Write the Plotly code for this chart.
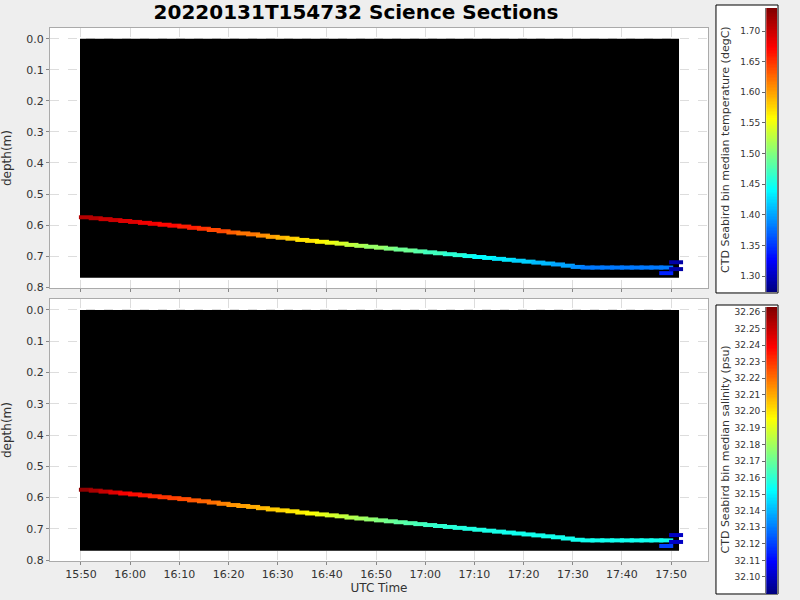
import plotly.graph_objects as go

times = ["15:50", "15:52", "15:54", "15:56", "15:58", "16:00", "16:02", "16:04", "16:06", "16:08",
         "16:10", "16:12", "16:14", "16:16", "16:18", "16:20", "16:22", "16:24", "16:26", "16:28",
         "16:30", "16:32", "16:34", "16:36", "16:38", "16:40", "16:42", "16:44", "16:46", "16:48",
         "16:50", "16:52", "16:54", "16:56", "16:58", "17:00", "17:02", "17:04", "17:06", "17:08",
         "17:10", "17:12", "17:14", "17:16", "17:18", "17:20", "17:22", "17:24", "17:26", "17:28",
         "17:30", "17:32", "17:34", "17:36", "17:38", "17:40", "17:42", "17:44", "17:46", "17:48"]
depth = [0.575, 0.578, 0.581, 0.584, 0.587, 0.590, 0.593, 0.596, 0.599, 0.602,
         0.605, 0.609, 0.612, 0.616, 0.620, 0.624, 0.627, 0.630, 0.634, 0.638,
         0.641, 0.644, 0.648, 0.651, 0.654, 0.657, 0.660, 0.664, 0.667, 0.670,
         0.673, 0.676, 0.679, 0.682, 0.685, 0.688, 0.691, 0.694, 0.697, 0.700,
         0.703, 0.706, 0.709, 0.712, 0.715, 0.718, 0.721, 0.724, 0.727, 0.731,
         0.735, 0.737, 0.737, 0.737, 0.737, 0.737, 0.737, 0.737, 0.737, 0.737]
temperature = [1.71, 1.71, 1.70, 1.70, 1.69, 1.69, 1.68, 1.68, 1.67, 1.67,
               1.66, 1.66, 1.65, 1.64, 1.64, 1.63, 1.62, 1.62, 1.61, 1.60,
               1.59, 1.58, 1.57, 1.57, 1.56, 1.55, 1.54, 1.53, 1.52, 1.51,
               1.51, 1.50, 1.49, 1.49, 1.48, 1.47, 1.47, 1.46, 1.46, 1.45,
               1.44, 1.44, 1.43, 1.43, 1.42, 1.42, 1.41, 1.41, 1.40, 1.40,
               1.39, 1.38, 1.38, 1.38, 1.38, 1.38, 1.38, 1.38, 1.38, 1.38]
salinity = [32.260, 32.255, 32.250, 32.245, 32.240, 32.237, 32.235, 32.232, 32.230, 32.228,
            32.226, 32.224, 32.222, 32.220, 32.217, 32.214, 32.212, 32.210, 32.208, 32.205,
            32.203, 32.200, 32.198, 32.195, 32.192, 32.189, 32.186, 32.183, 32.180, 32.177,
            32.174, 32.171, 32.168, 32.166, 32.164, 32.162, 32.160, 32.159, 32.158, 32.157,
            32.157, 32.156, 32.156, 32.155, 32.155, 32.155, 32.155, 32.155, 32.155, 32.155,
            32.155, 32.155, 32.155, 32.155, 32.155, 32.155, 32.155, 32.155, 32.155, 32.155]
extra_times = ["17:48", "17:50", "17:50"]
extra_depth = [0.755, 0.720, 0.742]
extra_temp = [1.34, 1.29, 1.29]
extra_sal = [32.12, 32.10, 32.10]

temp_ticks = [1.30, 1.35, 1.40, 1.45, 1.50, 1.55, 1.60, 1.65, 1.70]
sal_ticks = [32.10, 32.11, 32.12, 32.13, 32.14, 32.15, 32.16, 32.17, 32.18,
             32.19, 32.20, 32.21, 32.22, 32.23, 32.24, 32.25, 32.26]

jet = [[0, "#00007f"], [0.11, "#0000ff"], [0.36, "#00ffff"], [0.61, "#ffff00"],
       [0.86, "#ff0000"], [1, "#7f0000"]]

day = "2022-01-31 "
x = [day + t for t in times]
xe = [day + t for t in extra_times]

font = dict(size=11, family="DejaVu Sans", color="#333")
fig = go.Figure()

panels = [
    (1, temperature, extra_temp, 1.274, 1.7376, temp_ticks,
     "CTD Seabird bin median temperature (degC)", [0.5203, 0.961], [0.5136, 0.9949], [0.5119, 1.0]),
    (2, salinity, extra_sal, 32.0897, 32.263, sal_ticks,
     "CTD Seabird bin median salinity (psu)", [0.0576, 0.5017], [0.0017, 0.4881], [0.0017, 0.4915]),
]
for row, vals, evals, cmin, cmax, tv, label, dom, cdom, box in panels:
    xa, ya = ("x", "y") if row == 1 else ("x2", "y2")
    cx, cy = ("x3", "y3") if row == 1 else ("x4", "y4")
    fig.add_shape(type="rect", xref=xa, yref=ya,
                  x0=day + "15:49:48", x1=day + "17:51:36", y0=0, y1=0.77,
                  fillcolor="black", line_width=0, layer="between")
    fig.add_trace(go.Scatter(
        x=x + xe, y=depth + extra_depth, mode="markers", showlegend=False,
        xaxis=xa, yaxis=ya, hoverinfo="skip",
        xperiod=120000, xperiod0=day + "15:50", xperiodalignment="middle",
        marker=dict(symbol="line-ew", size=10, color=vals + evals, colorscale=jet,
                    cmin=cmin, cmax=cmax,
                    line=dict(width=4, color=vals + evals, colorscale=jet, cmin=cmin, cmax=cmax))))
    # colour bar box and bar
    fig.add_shape(type="rect", xref="paper", yref="paper", x0=0.9123, x1=0.9973,
                  y0=box[0], y1=box[1], fillcolor="white", line=dict(color="black", width=1),
                  layer="below")
    steps = [cmin + (cmax - cmin) * i / 200 for i in range(201)]
    fig.add_trace(go.Heatmap(z=[[s] for s in steps], y=steps, x=[0], colorscale=jet,
                             zmin=cmin, zmax=cmax, showscale=False, xaxis=cx, yaxis=cy,
                             hoverinfo="skip"))
    fig.add_annotation(text=label, textangle=-90, xref="paper", yref="paper",
                       x=0.926, y=(box[0] + box[1]) / 2, showarrow=False,
                       xanchor="center", yanchor="middle",
                       font=dict(size=11, family="DejaVu Sans", color="#333"))
    n = "" if row == 1 else "2"
    fig.layout["yaxis" + n] = dict(domain=dom, range=[0.803, -0.035], dtick=0.1, tickformat=".1f",
                                   anchor=xa,
                                   title=dict(text="depth(m)", font=dict(size=12, family="DejaVu Sans", color="#333")),
                                   showline=True, linecolor="#aaaaaa", mirror=True, gridcolor="#dddddd",
                                   griddash="dash", ticks="outside", ticklen=3, tickcolor="#888",
                                   tickfont=font, zeroline=False)
    fig.layout["xaxis" + n] = dict(domain=[0, 0.9014], anchor=ya,
                                   range=[day + "15:43:42", day + "17:57:30"], dtick=600000,
                                   tickformat="%H:%M", showticklabels=(row == 2),
                                   showline=True, linecolor="#aaaaaa", mirror=True, gridcolor="#dddddd",
                                   griddash="dash", ticks="outside", ticklen=3, tickcolor="#888",
                                   tickfont=font, zeroline=False)
    m = "3" if row == 1 else "4"
    fig.layout["xaxis" + m] = dict(domain=[0.981, 0.9959], anchor=cy, visible=False, fixedrange=True)
    fig.layout["yaxis" + m] = dict(domain=cdom, anchor=cx, range=[cmin, cmax], tickvals=tv,
                                   ticktext=[f"{v:.2f}" for v in tv], ticks="outside", ticklen=3,
                                   tickcolor="#666",
                                   tickfont=dict(size=9, family="DejaVu Sans", color="#333"),
                                   showline=True, linecolor="#777", mirror=True, showgrid=False,
                                   zeroline=False)

fig.layout.xaxis2.title = dict(text="UTC Time", font=dict(size=12, family="DejaVu Sans", color="#333"),
                               standoff=2)

fig.update_layout(
    width=800, height=600,
    title=dict(text="<b>20220131T154732 Science Sections</b>", x=0.445, xanchor="center",
               y=0.98, yref="container", yanchor="middle",
               font=dict(size=20, family="DejaVu Sans", color="black")),
    paper_bgcolor="#eeeeee", plot_bgcolor="white",
    margin=dict(l=50, r=20, t=5, b=5, autoexpand=False),
)
fig.write_html("out.html", config={"displayModeBar": False},
               post_script="document.body.style.margin='0';")
